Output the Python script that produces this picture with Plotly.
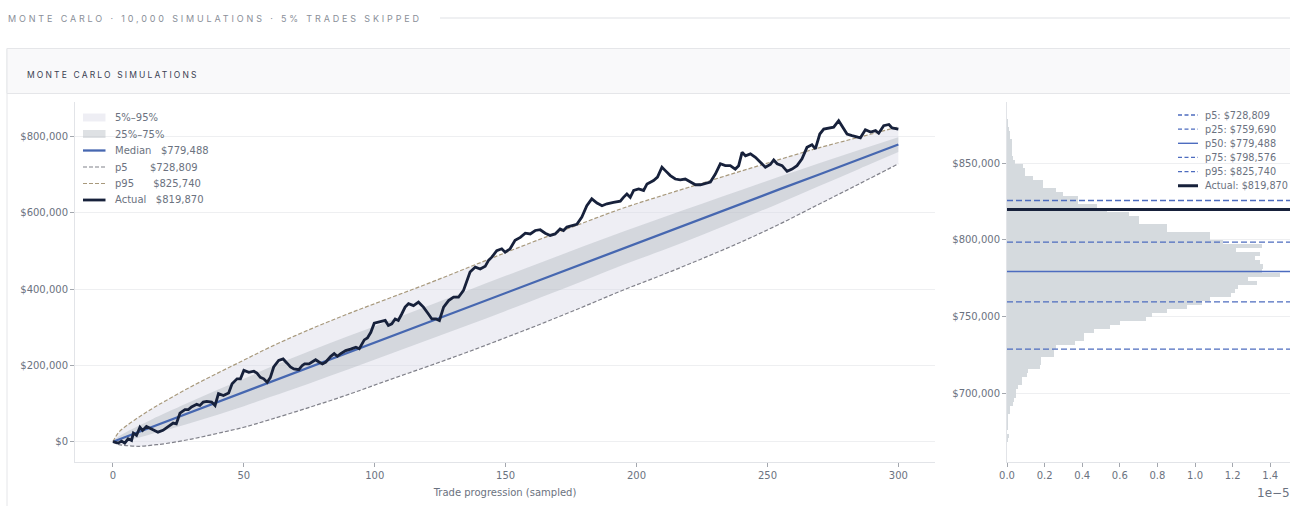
import plotly.graph_objects as go

W, H = 1290, 506


def PX(x):
    return x / W


def PY(y):
    return 1 - y / H


# ---------------- data ----------------
x_pct = [0, 2, 5, 10, 15, 20, 30, 40, 50, 60, 75, 90, 105, 120, 135, 150, 165, 180, 195, 210, 225, 240, 255, 270, 285, 300]
p5 = [0, -7000, -10000, -12000, -9000, -5000, 7000, 22000, 38000, 58000, 90000, 124000, 161000, 197000, 234000, 273000,
      313000, 355000, 398000, 438000, 480000, 524000, 572000, 624000, 676000, 728809]
p25 = [0, 200, 4000, 11000, 21000, 30000, 50000, 71000, 93000, 117000, 153000, 190000, 228000, 266000, 304000, 343000,
       383000, 423000, 464000, 502000, 542000, 584000, 627000, 671500, 715500, 759690]
median = [0, 5200, 13000, 26000, 39000, 52000, 78000, 104000, 130000, 156000, 195000, 234000, 273000, 312000, 351000,
          390000, 429000, 468000, 507000, 546000, 585000, 624000, 663000, 701500, 740500, 779488]
p75 = [0, 12800, 24800, 42400, 59000, 75000, 106000, 136000, 165000, 195000, 237000, 277000, 316000, 355000, 395000,
       435000, 474000, 513000, 551500, 588000, 624000, 660000, 696000, 731000, 765000, 798576]
p95 = [0, 23000, 41000, 65000, 87000, 107000, 145000, 180000, 214000, 248000, 294000, 336000, 375000, 414000, 455000,
       496000, 536000, 575000, 613000, 646000, 678000, 710000, 741000, 771500, 798500, 825740]

actual_x = [0, 2, 3.3, 4.5, 5.8, 7.1, 7.8, 9, 10.3, 11.3, 12.8, 14.7, 17.2, 19.1, 21.7, 23, 24.2, 25.6, 27.5, 28.8,
            30, 32, 33.2, 34.5, 35.8, 37.7, 39, 40.3, 42.2, 44.2, 45.5, 47.4, 48.7, 50, 51.9, 53.8, 55, 56.3, 57.6,
            58.9, 60.1, 61.4, 63.3, 65, 66.5, 67.8, 69.1, 71, 72.3, 73.2, 74.9, 76.2, 77.4, 78.7, 80, 81.3, 83.2,
            84.5, 85.7, 87, 88.9, 90.8, 92.8, 94.1, 96, 97.2, 98.5, 99.8, 101.7, 104, 105.2, 106.5, 107.8, 109,
            110.3, 111.6, 112.9, 114.8, 116.7, 118.6, 120.5, 121.8, 123.4, 124.7, 126.3, 128.2, 130.1, 132, 133.9,
            135.2, 136.4, 138.4, 140.3, 142.2, 143.4, 144.7, 146.6, 148.5, 149.8, 151.7, 153.6, 155.6, 157.5,
            159.4, 161.3, 163.2, 165.1, 167, 168.9, 170.8, 172.1, 173.4, 175.3, 177.2, 179.1, 181, 182.9, 184.9,
            186.8, 188.7, 191.2, 193.8, 195, 196.3, 197.6, 198.9, 200.8, 202.7, 204, 205.3, 206.5, 208, 209.7,
            211, 212.9, 214.8, 216.7, 218.6, 220.6, 222.5, 224.4, 226.3, 228.2, 230.1, 232, 233.9, 235.8, 237.7,
            239, 240.3, 241.6, 243.5, 245.4, 247.3, 249.2, 251.1, 252.4, 253.7, 255.6, 257.5, 259.4, 261.3, 263.2,
            265.1, 267, 268.3, 270, 271.5, 273.4, 275.3, 277.2, 278.5, 280.4, 282.3, 284.3, 285.5, 287.4, 289.4,
            291.3, 292.5, 294.4, 296.4, 297.6, 300]
actual_k = [0, -3.6, 1.6, -3.6, 7.7, 3.4, 22.6, 16.5, 38, 29.6, 40, 34, 25, 30, 43, 49, 47, 75, 84, 84,
            91, 98, 95, 104, 106, 104, 95, 126, 121, 128, 152, 165, 165, 187, 182, 185, 180, 169, 165,
            156, 168, 196, 213, 217, 206, 196, 191, 189, 200, 204, 204, 209, 215, 209, 204, 209, 224,
            231, 224, 231, 239, 243, 248, 244, 267, 272, 287, 311, 314, 318, 305, 309, 322, 318,
            335, 353, 362, 357, 366, 353, 335, 322, 322, 318, 353, 370, 379, 379, 397,
            423, 445, 458, 453, 460, 475, 484, 501, 506, 497, 506, 528, 536, 547,
            545, 554, 556, 547, 541, 545, 558, 554, 563, 567, 570, 589, 619, 637, 626,
            619, 624, 628, 631, 641, 650, 641, 659, 663, 659, 676, 681, 685, 694, 720,
            711, 698, 689, 687, 689, 681, 674, 674, 678, 681, 702, 729, 724, 724, 715,
            724, 759, 750, 755, 746, 733, 720, 727, 739, 729, 724, 709, 715, 724, 742,
            772, 779, 768, 807, 820, 823, 825, 842, 829, 807, 803, 800, 797, 818, 812,
            816, 809, 829, 832, 823, 819.87]

# histogram of final equity (density, in units of 1e-5), bins listed from top (highest value) down
hist_top = 878700
hist_bin_width = 2630
hist_density = [0.005, 0.005, 0.012, 0.016, 0.016, 0.025, 0.025, 0.025, 0.025, 0.03,
                0.043, 0.087, 0.096, 0.096, 0.14, 0.19, 0.19, 0.26, 0.30, 0.38,
                0.38, 0.48, 0.53, 0.65, 0.70, 0.70, 0.85, 0.85, 1.08, 1.08,
                1.15, 1.355, 1.22, 1.345, 1.32, 1.345, 1.36, 1.355, 1.45, 1.28,
                1.33, 1.23, 1.21, 1.19, 1.08, 1.035, 0.955, 0.85, 0.77, 0.74,
                0.60, 0.55, 0.46, 0.41, 0.41, 0.36, 0.26, 0.25, 0.25, 0.18,
                0.18, 0.175, 0.11, 0.105, 0.08, 0.08, 0.06, 0.05, 0.05, 0.035,
                0.03, 0.016, 0.016, 0.005, 0.005, 0.002, 0.002, 0.0, 0.01, 0.002]

pct_names = ["p5", "p25", "p50", "p75", "p95"]
pct_values = [728809, 759690, 779488, 798576, 825740]
actual_final = 819870

left_xticks = [0, 50, 100, 150, 200, 250, 300]
left_yticks = [0, 200000, 400000, 600000, 800000]
right_yticks = [700000, 750000, 800000, 850000]
right_xticks = [0, 0.2, 0.4, 0.6, 0.8, 1.0, 1.2, 1.4]

# ---------------- styles ----------------
FONT = "DejaVu Sans"
TXT = "#6b7280"
C_OUTER = "rgba(214,214,228,0.42)"
C_INNER = "rgba(172,180,188,0.40)"
C_MED = "#4667b0"
C_P5 = "#80818a"
C_P95 = "#a8997c"
C_ACT = "#17213b"
C_HIST = "#d5dade"
C_HLINE = "#4d6cbf"

fig = go.Figure()

# bands
fig.add_trace(go.Scatter(x=x_pct, y=p5, mode="lines", line=dict(width=0, shape="spline"), showlegend=False,
                         hoverinfo="skip"))
fig.add_trace(go.Scatter(x=x_pct, y=p95, mode="lines", line=dict(width=0, shape="spline"), fill="tonexty",
                         fillcolor=C_OUTER, showlegend=False, hoverinfo="skip"))
fig.add_trace(go.Scatter(x=x_pct, y=p25, mode="lines", line=dict(width=0, shape="spline"), showlegend=False,
                         hoverinfo="skip"))
fig.add_trace(go.Scatter(x=x_pct, y=p75, mode="lines", line=dict(width=0, shape="spline"), fill="tonexty",
                         fillcolor=C_INNER, showlegend=False, hoverinfo="skip"))
fig.add_trace(go.Scatter(x=x_pct, y=median, mode="lines", line=dict(width=2.3, color=C_MED), showlegend=False))
fig.add_trace(go.Scatter(x=x_pct, y=p5, mode="lines", line=dict(width=1.2, color=C_P5, dash="4px,2px", shape="spline"),
                         showlegend=False))
fig.add_trace(go.Scatter(x=x_pct, y=p95, mode="lines", line=dict(width=1.2, color=C_P95, dash="4px,2px", shape="spline"),
                         showlegend=False))
fig.add_trace(go.Scatter(x=actual_x, y=[v * 1000 for v in actual_k], mode="lines",
                         line=dict(width=2.8, color=C_ACT), showlegend=False))

# histogram
centers = [hist_top - (i + 0.5) * hist_bin_width for i in range(len(hist_density))]
fig.add_trace(go.Bar(x=hist_density, y=centers, orientation="h", width=hist_bin_width,
                     marker=dict(color=C_HIST, line=dict(width=0)),
                     xaxis="x2", yaxis="y2", showlegend=False))
XR2 = [0, 1.505]
for name, v in zip(pct_names, pct_values):
    fig.add_trace(go.Scatter(x=XR2, y=[v, v], mode="lines", xaxis="x2", yaxis="y2", showlegend=False,
                             line=dict(color=C_HLINE, width=1.4 if name == "p50" else 1.3,
                                       dash="solid" if name == "p50" else "6px,3px")))
fig.add_trace(go.Scatter(x=XR2, y=[actual_final, actual_final], mode="lines", xaxis="x2", yaxis="y2",
                         showlegend=False, line=dict(color=C_ACT, width=3)))

shapes = []
annos = []

# page header & card
shapes.append(dict(type="line", xref="paper", yref="paper", x0=PX(440), x1=1.0, y0=PY(18), y1=PY(18),
                   line=dict(color="#dfe1e5", width=1), layer="below"))
shapes.append(dict(type="rect", xref="paper", yref="paper", x0=PX(7), x1=1.02, y0=-0.05, y1=PY(48.5),
                   line=dict(color="#e5e6e9", width=1), fillcolor="white", layer="below"))
shapes.append(dict(type="rect", xref="paper", yref="paper", x0=PX(7), x1=1.02, y0=PY(93.5), y1=PY(48.5),
                   line=dict(color="#e5e6e9", width=1), fillcolor="#f9f9fa", layer="below"))
annos.append(dict(xref="paper", yref="paper", x=PX(6), y=PY(18.5), xanchor="left", yanchor="middle", showarrow=False,
                  text='<span style="letter-spacing:2.85px">MONTE CARLO · 10,000 SIMULATIONS · 5% TRADES SKIPPED</span>',
                  font=dict(family="Inter", size=9, color="#8a8f99")))
annos.append(dict(xref="paper", yref="paper", x=PX(25), y=PY(75), xanchor="left", yanchor="middle", showarrow=False,
                  text='<span style="letter-spacing:2.15px">MONTE CARLO SIMULATIONS</span>',
                  font=dict(family="Inter", size=8.5, color="#3a4152")))

# left legend (manual)
NB = "\u00a0"
left_rows = [
    ("patch", C_OUTER, "5%–95%"),
    ("patch", C_INNER, "25%–75%"),
    ("line", (C_MED, 2.3, "solid"), "Median" + NB * 3 + f"${median[-1]:,.0f}"),
    ("line", (C_P5, 1.2, "4px,2px"), "p5" + NB * 7 + f"${p5[-1]:,.0f}"),
    ("line", (C_P95, 1.2, "4px,2px"), "p95" + NB * 6 + f"${p95[-1]:,.0f}"),
    ("line", (C_ACT, 2.8, "solid"), "Actual" + NB * 3 + f"${actual_k[-1] * 1000:,.0f}"),
]
for i, (kind, sty, label) in enumerate(left_rows):
    yy = 117.5 + i * 16.5
    if kind == "patch":
        shapes.append(dict(type="rect", xref="paper", yref="paper", x0=PX(83), x1=PX(105.5), y0=PY(yy + 4),
                           y1=PY(yy - 4), line=dict(width=0), fillcolor=sty))
    else:
        c, w, d = sty
        shapes.append(dict(type="line", xref="paper", yref="paper", x0=PX(83), x1=PX(105.5), y0=PY(yy), y1=PY(yy),
                           line=dict(color=c, width=w, dash=d)))
    annos.append(dict(xref="paper", yref="paper", x=PX(112.5), y=PY(yy), xanchor="left", yanchor="middle",
                      showarrow=False, text=label, font=dict(family=FONT, size=10, color=TXT)))

# right legend (manual)
right_rows = [(f"{n}: ${v:,.0f}", C_HLINE, 1.3 if n != "p50" else 1.4, "solid" if n == "p50" else "4px,2.5px")
              for n, v in zip(pct_names, pct_values)]
right_rows.append((f"Actual: ${actual_final:,.0f}", C_ACT, 3, "solid"))
for i, (label, c, w, d) in enumerate(right_rows):
    yy = 115 + i * 14.15
    shapes.append(dict(type="line", xref="paper", yref="paper", x0=PX(1178), x1=PX(1198), y0=PY(yy), y1=PY(yy),
                       line=dict(color=c, width=w, dash=d)))
    annos.append(dict(xref="paper", yref="paper", x=PX(1203), y=PY(yy), xanchor="left", yanchor="middle",
                      showarrow=False, text=label, font=dict(family=FONT, size=9.7, color=TXT)))

# offset text of the histogram x axis
annos.append(dict(xref="paper", yref="paper", x=PX(1255), y=PY(493), xanchor="left", yanchor="middle",
                  showarrow=False, text="1e\u22125", font=dict(family=FONT, size=12, color="#6b7280")))

AX = dict(showgrid=False, zeroline=False, showline=True, linecolor="#e2e4e8", linewidth=1, ticks="outside",
          ticklen=4, tickcolor="#a3a7ae", tickwidth=1, tickfont=dict(family=FONT, size=10, color=TXT),
          automargin=False)
AY = dict(showgrid=True, gridcolor="#eeeff1", gridwidth=1, zeroline=False, showline=True, linecolor="#e2e4e8",
          linewidth=1, ticks="outside", ticklen=4, tickcolor="#a3a7ae", tickwidth=1,
          tickfont=dict(family=FONT, size=10, color=TXT), tickformat="$,.0f", automargin=False)

fig.update_layout(
    width=W, height=H, margin=dict(l=0, r=0, t=0, b=0, pad=0, autoexpand=False),
    paper_bgcolor="white", plot_bgcolor="rgba(0,0,0,0)",
    showlegend=False, bargap=0, hovermode=False,
    xaxis=dict(AX, domain=[PX(75), PX(935)], range=[-14.5, 314], tickvals=left_xticks,
               title=dict(text="Trade progression (sampled)", font=dict(family=FONT, size=10, color=TXT), standoff=8)),
    yaxis=dict(AY, domain=[PY(462), PY(102)], range=[-53200, 891000], tickvals=left_yticks),
    xaxis2=dict(AX, domain=[PX(1007), 1.0], range=XR2, tickvals=right_xticks,
                ticktext=[f"{t:.1f}" for t in right_xticks], anchor="y2"),
    yaxis2=dict(AY, domain=[PY(462), PY(102)], range=[655200, 890000], tickvals=right_yticks, anchor="x2"),
    shapes=shapes, annotations=annos,
)

fig.write_html("out.html")
